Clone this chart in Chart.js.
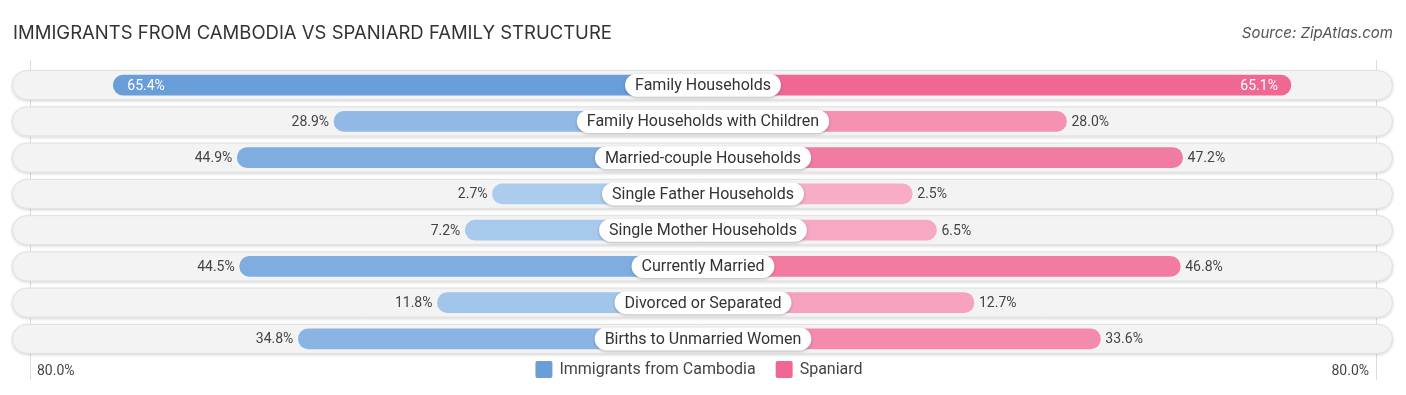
<!DOCTYPE html>
<html>
<head>
<meta charset="utf-8">
<script src="https://cdn.jsdelivr.net/npm/chart.js@4.4.1/dist/chart.umd.min.js"></script>
<style>
  html, body { margin: 0; padding: 0; background: #fff; }
  #wrap { position: relative; width: 1406px; height: 395px; }
</style>
</head>
<body>
<div id="wrap"><canvas id="myChart" width="1406" height="395"></canvas></div>
<script>
let categories = ['Family Households', 'Family Households with Children', 'Married-couple Households',
  'Single Father Households', 'Single Mother Households', 'Currently Married',
  'Divorced or Separated', 'Births to Unmarried Women'];
let cambodia = [65.4, 28.9, 44.9, 2.7, 7.2, 44.5, 11.8, 34.8];
let spaniard = [65.1, 28.0, 47.2, 2.5, 6.5, 46.8, 12.7, 33.6];
let seriesNames = ['Immigrants from Cambodia', 'Spaniard'];
let axisMax = 80;
let axisLabel = '80.0%';

// bars start under the centre label, so every bar gets a fixed extra length
const off = 32.1;
const font = 'Roboto, "Noto Sans", sans-serif';

const mix = (a, b, t) => {
  let c = [0, 1, 2].map(i => Math.round(a[i] + (b[i] - a[i]) * t));
  return 'rgb(' + c.join(',') + ')';
};
const blueLight = [174, 206, 238], blueDark = [106, 158, 217];
const pinkLight = [248, 176, 200], pinkDark = [240, 104, 146];
const maxVal = Math.max(...cambodia, ...spaniard);

var ctx = document.getElementById('myChart').getContext('2d');

const rowsPlugin = {
  id: 'rows',
  beforeDatasetsDraw(chart) {
    const c = chart.ctx, y = chart.scales.y;
    c.save();
    // thin edge lines
    c.strokeStyle = '#dcdcdc';
    c.lineWidth = 1;
    c.beginPath();
    c.moveTo(30.5, 60); c.lineTo(30.5, 380);
    c.moveTo(1376.5, 60); c.lineTo(1376.5, 380);
    c.stroke();
    categories.forEach((cat, i) => {
      const yc = y.getPixelForValue(i);
      c.save();
      c.shadowColor = 'rgba(0,0,0,0.18)';
      c.shadowBlur = 3;
      c.shadowOffsetY = 1;
      c.fillStyle = '#f3f3f3';
      c.beginPath();
      c.roundRect(12, yc - 15, 1381, 30, 15);
      c.fill();
      c.restore();
      c.strokeStyle = '#e0e0e0';
      c.beginPath();
      c.roundRect(12.5, yc - 14.5, 1380, 29, 14.5);
      c.stroke();
    });
    c.restore();
  },
  afterDatasetsDraw(chart) {
    const c = chart.ctx, x = chart.scales.x, y = chart.scales.y;
    const cx = x.getPixelForValue(0);
    c.save();
    c.textBaseline = 'middle';
    categories.forEach((cat, i) => {
      const yc = y.getPixelForValue(i);
      // centre label pill
      c.font = '16px ' + font;
      const w = c.measureText(cat).width + 20;
      c.save();
      c.shadowColor = 'rgba(0,0,0,0.25)';
      c.shadowBlur = 3;
      c.shadowOffsetY = 1;
      c.fillStyle = '#fff';
      c.beginPath();
      c.roundRect(cx - w / 2, yc - 11.5, w, 23, 11.5);
      c.fill();
      c.restore();
      c.fillStyle = '#333';
      c.textAlign = 'center';
      c.fillText(cat, cx, yc + 1);

      // value labels
      c.font = '14px ' + font;
      const lx = x.getPixelForValue(-(cambodia[i] + off));
      const rx = x.getPixelForValue(spaniard[i] + off);
      if (cambodia[i] > 55) {
        c.fillStyle = '#fff'; c.textAlign = 'left';
        c.fillText(cambodia[i].toFixed(1) + '%', lx + 14, yc + 1);
      } else {
        c.fillStyle = '#444'; c.textAlign = 'right';
        c.fillText(cambodia[i].toFixed(1) + '%', lx - 5, yc + 1);
      }
      if (spaniard[i] > 55) {
        c.fillStyle = '#fff'; c.textAlign = 'right';
        c.fillText(spaniard[i].toFixed(1) + '%', rx - 13, yc + 1);
      } else {
        c.fillStyle = '#444'; c.textAlign = 'left';
        c.fillText(spaniard[i].toFixed(1) + '%', rx + 5, yc + 1);
      }
    });

    // title and source
    c.fillStyle = '#333';
    c.textAlign = 'left';
    c.font = '18.5px Inter, "Open Sans", sans-serif';
    c.fillText('IMMIGRANTS FROM CAMBODIA VS SPANIARD FAMILY STRUCTURE', 13, 33);
    c.fillStyle = '#555';
    c.textAlign = 'right';
    c.font = 'italic 15px Inter, "Open Sans", sans-serif';
    c.fillText('Source: ZipAtlas.com', 1393, 33);

    // axis end labels
    c.fillStyle = '#444';
    c.font = '14px ' + font;
    c.textAlign = 'left';
    c.fillText(axisLabel, 37, 371);
    c.textAlign = 'right';
    c.fillText(axisLabel, 1369, 371);

    // legend
    c.font = '16px ' + font;
    const items = [[seriesNames[0], mix(blueLight, blueDark, 1)], [seriesNames[1], mix(pinkLight, pinkDark, 1)]];
    const widths = items.map(it => 17 + 7 + c.measureText(it[0]).width);
    const total = widths[0] + widths[1] + 20;
    let lxp = 699 - total / 2;
    items.forEach((it, k) => {
      c.fillStyle = it[1];
      c.beginPath();
      c.roundRect(lxp, 361, 17, 17, 2);
      c.fill();
      c.fillStyle = '#444';
      c.textAlign = 'left';
      c.fillText(it[0], lxp + 24, 370);
      lxp += widths[k] + 20;
    });
    c.restore();
  }
};

new Chart(ctx, {
  type: 'bar',
  data: {
    labels: categories,
    datasets: [{
      label: seriesNames[0],
      data: cambodia.map(v => [-(v + off), 0]),
      backgroundColor: cambodia.map(v => mix(blueLight, blueDark, v / maxVal)),
      barThickness: 20,
      borderRadius: 10,
      borderSkipped: false,
      grouped: false
    }, {
      label: seriesNames[1],
      data: spaniard.map(v => [0, v + off]),
      backgroundColor: spaniard.map(v => mix(pinkLight, pinkDark, v / maxVal)),
      barThickness: 20,
      borderRadius: 10,
      borderSkipped: false,
      grouped: false
    }]
  },
  options: {
    indexAxis: 'y',
    responsive: false,
    animation: false,
    layout: { padding: { left: 25, right: 25, top: 67, bottom: 38 } },
    scales: {
      x: { display: false, min: -(axisMax + off), max: axisMax + off },
      y: { display: false }
    },
    plugins: { legend: { display: false }, tooltip: { enabled: false } }
  },
  plugins: [rowsPlugin]
});
</script>
</body>
</html>
